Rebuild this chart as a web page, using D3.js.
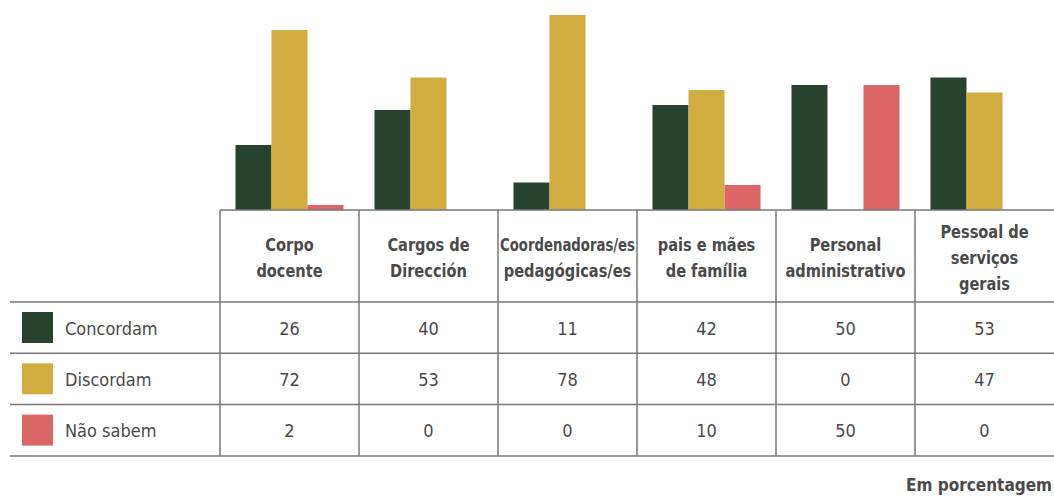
<!DOCTYPE html>
<html>
<head>
<meta charset="utf-8">
<script src="https://cdn.jsdelivr.net/npm/d3@7"></script>
<style>
  body { margin: 0; background: #fff; }
  svg text { font-family: "DejaVu Sans Condensed", "DejaVu Sans", sans-serif; font-stretch: condensed; fill: #4a4a4a; }
</style>
</head>
<body>
<div id="chart"></div>
<script>
// data
var categories = ["Corpo docente", "Cargos de Dirección", "Coordenadoras/es pedagógicas/es",
                  "pais e mães de família", "Personal administrativo", "Pessoal de serviços gerais"];
var headerLines = [["Corpo", "docente"], ["Cargos de", "Dirección"], ["Coordenadoras/es", "pedagógicas/es"],
                   ["pais e mães", "de família"], ["Personal", "administrativo"], ["Pessoal de", "serviços", "gerais"]];
var seriesNames = ["Concordam", "Discordam", "Não sabem"];
var concordam = [26, 40, 11, 42, 50, 53];
var discordam = [72, 53, 78, 48, 0, 47];
var naoSabem  = [2, 0, 0, 10, 50, 0];
var colors = ["#27432f", "#d1ac3e", "#dc6666"];
var footNote = "Em porcentagem";

var seriesValues = [concordam, discordam, naoSabem];

var width = 1054, height = 497;
var base = 210,           // baseline of bars / top of table
    headerBottom = 302,
    rowH = 51.3,
    tableLeft = 220,
    lineLeft = 10;

var svg = d3.select("#chart")
  .append("svg")
    .attr("width", width)
    .attr("height", height);

// scales
var x = d3.scaleBand()
  .domain(categories)
  .range([tableLeft, width])
  .paddingInner(0).paddingOuter(0);

var xSub = d3.scaleBand()
  .domain(seriesNames)
  .range([0, x.bandwidth()])
  .paddingInner(0)
  .paddingOuter(0.43);

var y = d3.scaleLinear()
  .domain([0, 84])
  .range([base, 0]);

// bars
var groups = svg.append("g").selectAll("g")
  .data(categories)
  .join("g")
    .attr("transform", function(d) { return "translate(" + x(d) + ",0)"; });

groups.selectAll("rect")
  .data(function(d, i) {
    return seriesNames.map(function(s, j) { return {key: s, value: seriesValues[j][i], color: colors[j]}; });
  })
  .join("rect")
    .attr("x", function(d) { return xSub(d.key); })
    .attr("y", function(d) { return y(d.value); })
    .attr("width", xSub.bandwidth())
    .attr("height", function(d) { return base - y(d.value); })
    .attr("fill", function(d) { return d.color; });

// table lines
var lineColor = "#777";
svg.append("line")
  .attr("x1", tableLeft).attr("x2", width)
  .attr("y1", base).attr("y2", base)
  .attr("stroke", lineColor).attr("stroke-width", 1.5);

var rowTops = [headerBottom, headerBottom + rowH, headerBottom + 2 * rowH, headerBottom + 3 * rowH];
svg.append("g").selectAll("line")
  .data(rowTops)
  .join("line")
    .attr("x1", lineLeft).attr("x2", width)
    .attr("y1", function(d) { return d; }).attr("y2", function(d) { return d; })
    .attr("stroke", lineColor).attr("stroke-width", 1.5);

svg.append("g").selectAll("line")
  .data(categories)
  .join("line")
    .attr("x1", function(d) { return x(d); }).attr("x2", function(d) { return x(d); })
    .attr("y1", base).attr("y2", rowTops[3])
    .attr("stroke", lineColor).attr("stroke-width", 1.5);

// column headers (squeeze lines that are wider than the cell)
var headerMid = (base + headerBottom) / 2;
categories.forEach(function(c, i) {
  var lines = headerLines[i];
  lines.forEach(function(l, k) {
    var t = svg.append("text")
      .attr("x", x(c) + x.bandwidth() / 2)
      .attr("y", headerMid + (k - (lines.length - 1) / 2) * 26 + 8)
      .attr("text-anchor", "middle")
      .attr("font-weight", "bold")
      .style("font-size", "18px")
      .text(l);
    var len = t.node().getComputedTextLength();
    var maxLen = x.bandwidth() - 4;
    var target = Math.min(len * 0.9, maxLen);
    t.attr("textLength", target).attr("lengthAdjust", "spacingAndGlyphs");
  });
});

// legend rows + values
seriesNames.forEach(function(s, j) {
  var top = headerBottom + j * rowH;
  svg.append("rect")
    .attr("x", 22).attr("y", top + 10)
    .attr("width", 31).attr("height", 31)
    .attr("fill", colors[j]);
  svg.append("text")
    .attr("x", 65).attr("y", top + rowH / 2 + 7)
    .style("font-size", "18px")
    .text(s);
  svg.append("g").selectAll("text")
    .data(seriesValues[j])
    .join("text")
      .attr("x", function(d, i) { return x(categories[i]) + x.bandwidth() / 2; })
      .attr("y", top + rowH / 2 + 7)
      .attr("text-anchor", "middle")
      .style("font-size", "18px")
      .text(function(d) { return d; });
});

// footnote
svg.append("text")
  .attr("x", 1052).attr("y", 491)
  .attr("text-anchor", "end")
  .attr("font-weight", "bold")
  .style("font-size", "17px")
  .text(footNote);
</script>
</body>
</html>
